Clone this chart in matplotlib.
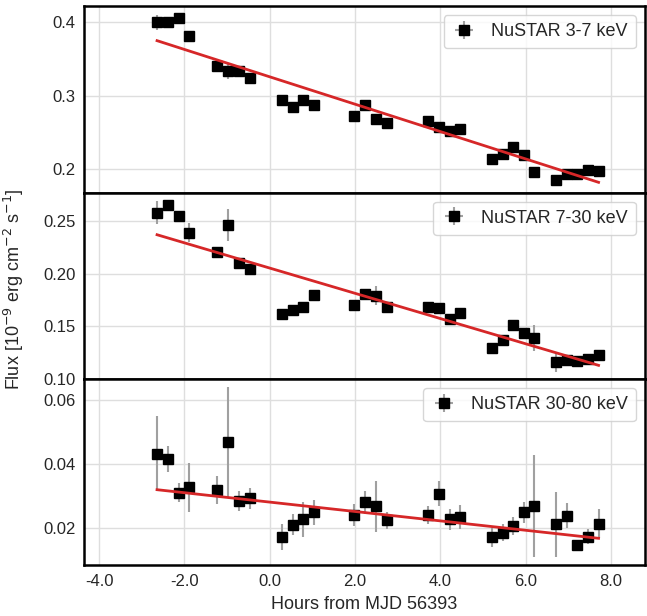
import numpy as np
import matplotlib
matplotlib.use("Agg")
import matplotlib.pyplot as plt
from matplotlib.ticker import MultipleLocator, FormatStrFormatter

# hours from MJD 56393
hours = [-2.64, -2.39, -2.13, -1.88, -1.23, -0.98, -0.72, -0.46, 0.30, 0.54,
         0.79, 1.05, 1.98, 2.24, 2.49, 2.74, 3.72, 3.97, 4.22, 4.46,
         5.22, 5.46, 5.71, 5.96, 6.20, 6.71, 6.96, 7.21, 7.46, 7.71]
hours_err = [0.05] * len(hours)

# NuSTAR 3-7 keV
flux_lo = [0.400, 0.400, 0.406, 0.381, 0.340, 0.334, 0.333, 0.324, 0.294, 0.284,
           0.294, 0.288, 0.273, 0.288, 0.268, 0.263, 0.265, 0.257, 0.252, 0.254,
           0.214, 0.221, 0.230, 0.219, 0.196, 0.185, 0.194, 0.193, 0.199, 0.197]
err_lo = [0.010, 0.004, 0.004, 0.007, 0.004, 0.011, 0.004, 0.004, 0.004, 0.004,
          0.004, 0.004, 0.004, 0.004, 0.006, 0.004, 0.004, 0.004, 0.004, 0.004,
          0.004, 0.004, 0.004, 0.004, 0.006, 0.004, 0.004, 0.004, 0.004, 0.004]
fit_lo = [0.375, 0.182]

# NuSTAR 7-30 keV
flux_mid = [0.258, 0.265, 0.255, 0.239, 0.221, 0.246, 0.210, 0.204, 0.162, 0.166,
            0.168, 0.180, 0.170, 0.181, 0.179, 0.168, 0.168, 0.167, 0.157, 0.163,
            0.129, 0.137, 0.151, 0.144, 0.139, 0.116, 0.118, 0.117, 0.119, 0.123]
err_mid = [0.011, 0.004, 0.004, 0.009, 0.004, 0.015, 0.004, 0.004, 0.004, 0.004,
           0.005, 0.004, 0.004, 0.004, 0.009, 0.004, 0.004, 0.004, 0.004, 0.004,
           0.004, 0.004, 0.004, 0.004, 0.012, 0.009, 0.004, 0.004, 0.004, 0.004]
fit_mid = [0.237, 0.113]

# NuSTAR 30-80 keV
flux_hi = [0.0434, 0.0418, 0.0312, 0.0328, 0.0319, 0.0469, 0.0285, 0.0294, 0.0174, 0.0211,
           0.0228, 0.0250, 0.0242, 0.0282, 0.0269, 0.0225, 0.0242, 0.0308, 0.0228, 0.0236,
           0.0172, 0.0187, 0.0208, 0.0251, 0.0269, 0.0213, 0.0240, 0.0148, 0.0174, 0.0215]
err_hi = [0.0118, 0.0041, 0.0031, 0.0078, 0.0044, 0.0173, 0.0031, 0.0033, 0.0041, 0.0033,
          0.0054, 0.0038, 0.0035, 0.0036, 0.0079, 0.0027, 0.0028, 0.0039, 0.0032, 0.0037,
          0.0029, 0.0027, 0.0028, 0.0033, 0.0160, 0.0101, 0.0038, 0.0017, 0.0023, 0.0046]
fit_hi = [0.0321, 0.0169]

bands = ["NuSTAR 3-7 keV", "NuSTAR 7-30 keV", "NuSTAR 30-80 keV"]
xticks = [-4.0, -2.0, 0.0, 2.0, 4.0, 6.0, 8.0]

plt.rcParams["font.family"] = ["Liberation Sans", "DejaVu Sans"]
plt.rcParams["axes.unicode_minus"] = False
plt.rcParams["text.color"] = "#262626"
plt.rcParams["axes.labelcolor"] = "#262626"
plt.rcParams["xtick.color"] = "#262626"
plt.rcParams["ytick.color"] = "#262626"

fig, axes = plt.subplots(3, 1, sharex=True, figsize=(6.47, 6.16), dpi=100)
fig.subplots_adjust(left=0.130, right=0.997, top=0.990, bottom=0.082, hspace=0)

panels = [
    (flux_lo, err_lo, fit_lo, (0.168, 0.422), 0.1, "%.1f"),
    (flux_mid, err_mid, fit_mid, (0.100, 0.277), 0.05, "%.2f"),
    (flux_hi, err_hi, fit_hi, (0.0084, 0.0667), 0.02, "%.2f"),
]

for ax, band, (flux, err, fit, ylim, step, fmt) in zip(axes, bands, panels):
    ax.set_facecolor("white")
    ax.grid(True, color="#dedede", linewidth=1.0)
    ax.set_axisbelow(True)
    ax.errorbar(hours, flux, yerr=err, xerr=hours_err, fmt="s", color="black",
                ecolor="#a0a0a0", elinewidth=1.5, markersize=7, label=band, zorder=3)
    ax.plot([hours[0], hours[-1]], fit, color="#d62728", linewidth=2, zorder=4)
    ax.set_ylim(*ylim)
    ax.yaxis.set_major_locator(MultipleLocator(step))
    ax.yaxis.set_major_formatter(FormatStrFormatter(fmt))
    for s in ax.spines.values():
        s.set_color("black")
        s.set_linewidth(1.8)
    ax.tick_params(length=0, labelsize=12, pad=6)
    leg = ax.legend(loc="upper right", fontsize=13, frameon=True, fancybox=True,
                    handlelength=1.4, borderpad=0.45)
    leg.get_frame().set_edgecolor("#cccccc")

axes[-1].set_xlim(-4.35, 8.8)
axes[-1].set_xticks(xticks)
axes[-1].xaxis.set_major_formatter(FormatStrFormatter("%.1f"))
axes[-1].set_xlabel("Hours from MJD 56393", fontsize=13, labelpad=5)
fig.text(0.022, 0.531, r"Flux [10$^{-9}$ erg cm$^{-2}$ s$^{-1}$]", rotation=90,
         va="center", ha="center", fontsize=13)

fig.savefig("out.png", dpi=100)
